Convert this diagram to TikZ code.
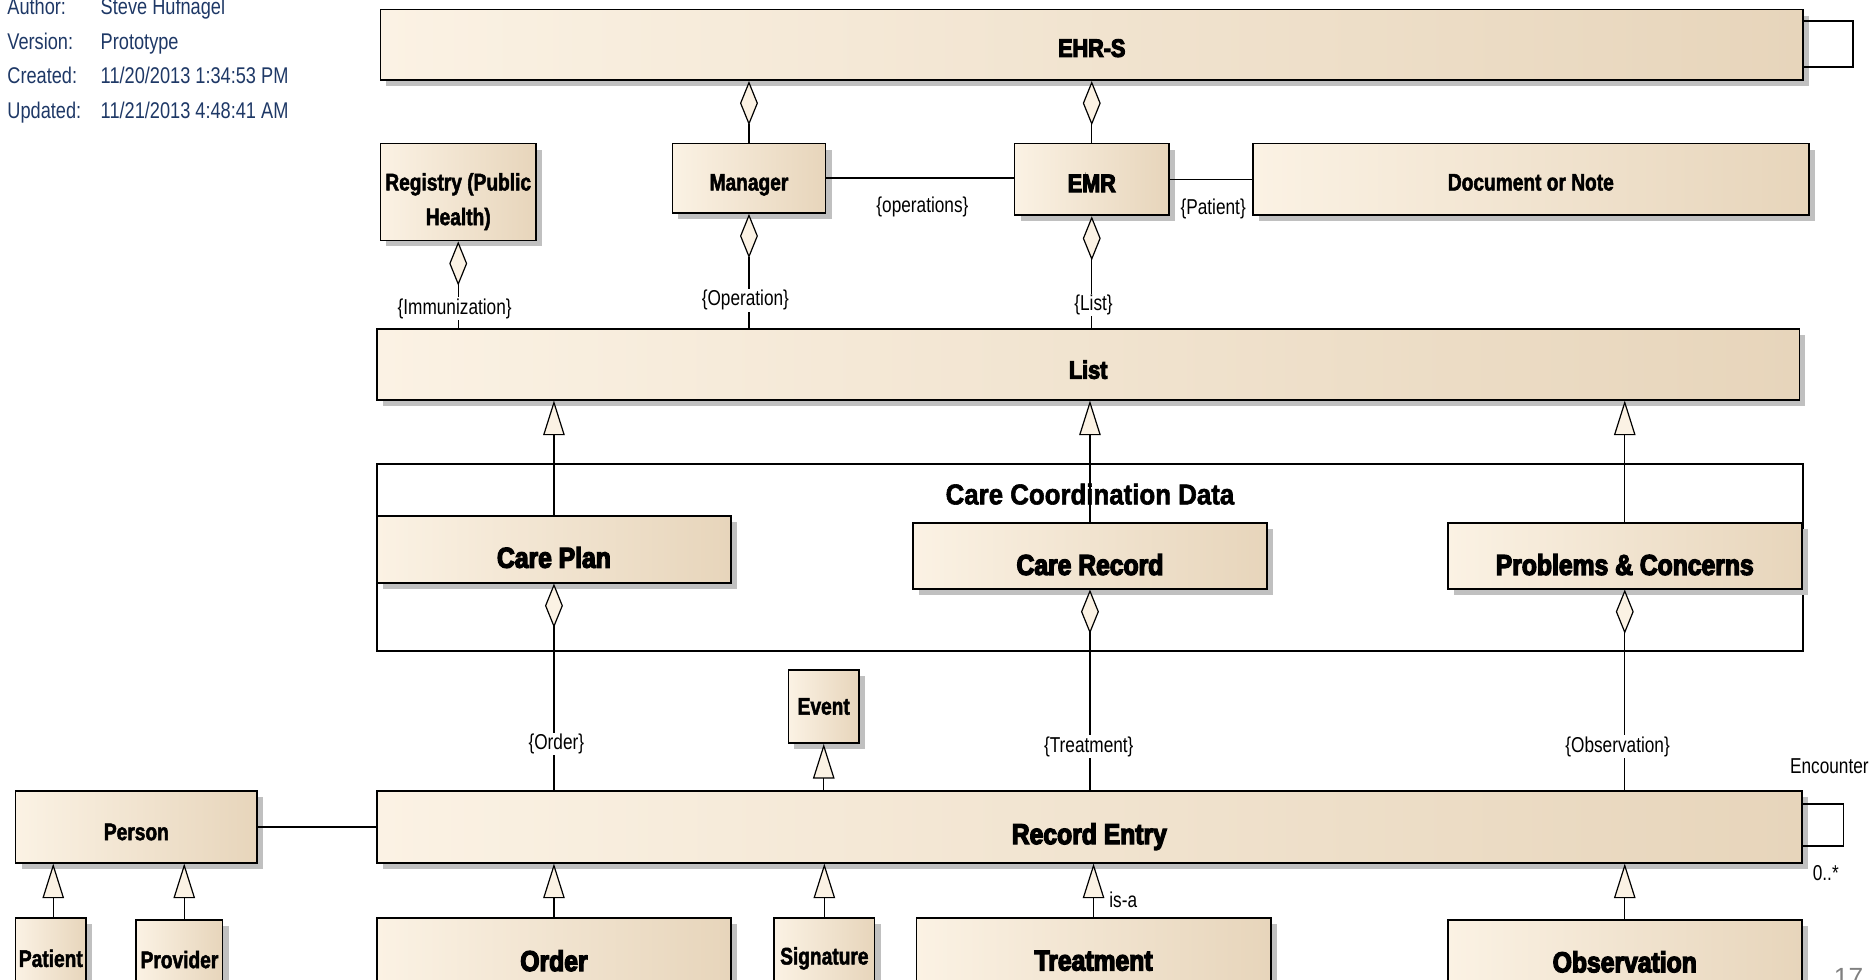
\documentclass[tikz,border=0pt]{standalone}
\usepackage{fontspec}
\setmainfont{Liberation Sans}
\newfontfamily\narrowfont[FakeStretch=0.8,BoldFeatures={FakeBold=2}]{Liberation Sans}
\newfontfamily\titlefont[FakeStretch=0.9,BoldFeatures={FakeBold=2}]{Liberation Sans}
\newfontfamily\heavyfont[FakeStretch=0.86,BoldFeatures={FakeBold=4.5}]{Liberation Sans}
\usetikzlibrary{arrows.meta,shadows}
\definecolor{cream}{RGB}{251,242,228}
\definecolor{boxtan}{RGB}{231,213,187}
\definecolor{navy}{RGB}{30,56,102}
\definecolor{shadowgray}{RGB}{192,192,192}

\tikzset{
  umlbox/.style={draw=black, line width=1.5pt, left color=cream, right color=boxtan,
    drop shadow={shadow xshift=5pt,shadow yshift=-5pt,fill=shadowgray,opacity=1},
    inner sep=0pt, align=center},
  plainbox/.style={umlbox, font=\narrowfont\bfseries\fontsize{20}{23}\selectfont},
  heavybox/.style={umlbox, font=\heavyfont\bfseries\fontsize{24}{27}\selectfont},
  heavysmall/.style={umlbox, font=\heavyfont\bfseries\fontsize{21}{24}\selectfont},
  sinktext/.style={text height=#1, text depth=0pt},
  boxsize/.style n args={2}{minimum width=#1, minimum height=#2},
  elabel/.style={font=\narrowfont\fontsize{18}{20}\selectfont, inner sep=1pt},
  onlinelabel/.style={elabel, fill=white},
  meta/.style={font=\narrowfont\fontsize{19}{22}\selectfont, text=navy, inner sep=0pt, anchor=base west},
  assoc/.style={draw=black, line width=1.5pt},
  agg/.style={draw=black, line width=1pt, -{Diamond[width=15pt,length=37pt,fill=cream]}},
  gen/.style={draw=black, line width=1pt, -{Triangle[width=18pt,length=29pt,fill=cream]}},
}

\begin{document}
\begin{tikzpicture}[x=1pt,y=-1pt]
\useasboundingbox (0,0) rectangle (1568,819);

% document properties
\node[meta] (authk) at (6,12) {Author:};
\node[meta] (authv) at (84,12) {Steve Hufnagel};
\node[meta] (verk) at (6,41) {Version:};
\node[meta] (verv) at (84,41) {Prototype};
\node[meta] (crek) at (6,70) {Created:};
\node[meta] (crev) at (84,70) {11/20/2013 1:34:53 PM};
\node[meta] (updk) at (6,99) {Updated:};
\node[meta] (updv) at (84,99) {11/21/2013 4:48:41 AM};

% package frame
\node[draw=black, line width=1.5pt, minimum width=1192pt, minimum height=156pt, inner sep=0pt] (ccd) at (911,466) {};

% classes
\node[heavysmall, sinktext=20pt, boxsize={1189pt}{59pt}] (ehrs) at (912.5,37.5) {EHR-S};
\node[plainbox, sinktext=20.4pt, boxsize={128pt}{58pt}] (mgr) at (626,149) {Manager};
\node[heavysmall, sinktext=21pt, boxsize={129pt}{60pt}] (emr) at (912.5,150) {EMR};
\node[plainbox, sinktext=18.4pt, boxsize={465pt}{60pt}] (doc) at (1279.5,150) {Document or Note};
\node[plainbox, boxsize={130pt}{81pt},
  label={[align=center, inner sep=0pt, yshift=-8pt, font=\narrowfont\bfseries\fontsize{20}{29}\selectfont]center:Registry (Public\\Health)}] (reg) at (383,160.5) {};
\node[heavysmall, sinktext=24pt, boxsize={1189pt}{59pt}] (list) at (909.5,304.5) {List};

\node[heavybox, sinktext=31pt, boxsize={296pt}{56pt}] (cp) at (463,459) {Care Plan};
\node[heavybox, sinktext=32pt, boxsize={296pt}{55pt}] (crec) at (911,464.5) {Care Record};
\node[heavybox, sinktext=32pt, boxsize={296pt}{55pt}] (prob) at (1358,464.5) {Problems \& Concerns};
\node[font=\titlefont\bfseries\fontsize{24}{26}\selectfont, inner sep=0pt] (ccdtitle) at (911,413) {Care Coordination Data};

\node[plainbox, boxsize={59pt}{61pt}] (event) at (688.5,590.5) {Event};
\node[heavybox, sinktext=29pt, boxsize={1191pt}{60pt}] (re) at (910.5,691) {Record Entry};
\node[plainbox, sinktext=22.4pt, boxsize={202pt}{60pt}] (person) at (114,691) {Person};

\node[plainbox, boxsize={59pt}{68pt}] (patient) at (42.5,801) {Patient};
\node[plainbox, boxsize={72pt}{66pt}] (provider) at (150,802) {Provider};
\node[heavybox, boxsize={296pt}{72pt}] (order) at (463,803) {Order};
\node[plainbox, boxsize={84pt}{68pt}] (sig) at (689,801) {Signature};
\node[heavybox, boxsize={296pt}{72pt}] (treat) at (914,803) {Treatment};
\node[heavybox, boxsize={296pt}{70pt}] (obs) at (1358,804) {Observation};

% self associations
\draw[assoc] ([yshift=-10pt]ehrs.north east) -- ++(41,0) -- ++(0,39) -- ++(-41,0);
\draw[assoc] ([yshift=-12pt]re.north east) -- ++(34,0) -- ++(0,35) -- ++(-34,0);
\node[elabel] (enc) at (1529,640) {Encounter};
\node[elabel] (mult) at (1526,730) {0..*};

% aggregations into EHR-S
\draw[agg] (mgr.north) -- (mgr.north |- ehrs.south);
\draw[agg] (emr.north) -- (emr.north |- ehrs.south);

% plain associations
\draw[assoc] (mgr.east) -- (mgr.east -| emr.west);
\draw[assoc] (emr.east) -- (emr.east -| doc.west);
\draw[assoc] (person.east) -- (person.east -| re.west);
\node[elabel] (opslbl) at (771,173) {\{operations\}};
\node[elabel] (patlbl) at (1014,175) {\{Patient\}};

% aggregations of List
\draw[agg] (reg.south |- list.north) -- (reg.south);
\draw[agg] (mgr.south |- list.north) -- (mgr.south);
\draw[agg] (emr.south |- list.north) -- (emr.south);
\node[onlinelabel] (immlbl) at (380,258) {\{Immunization\}};
\node[onlinelabel] (oplbl) at (623,251) {\{Operation\}};
\node[onlinelabel] (listlbl) at (914,255) {\{List\}};

% specializations of List
\draw[gen] (cp.north) -- (cp.north |- list.south);
\draw[gen] (crec.north) -- (crec.north |- list.south);
\draw[gen] (prob.north) -- (prob.north |- list.south);

% aggregations of Record Entry
\draw[agg] (cp.south |- re.north) -- (cp.south);
\draw[agg] (crec.south |- re.north) -- (crec.south);
\draw[agg] (prob.south |- re.north) -- (prob.south);
\node[onlinelabel] (ordlbl) at (465,622) {\{Order\}};
\node[onlinelabel] (trtlbl) at (910,624) {\{Treatment\}};
\node[onlinelabel] (obslbl) at (1352,624) {\{Observation\}};

% specializations of Record Entry and Person
\draw[gen] (event.south |- re.north) -- (event.south);
\draw[gen] (order.north) -- (order.north |- re.south);
\draw[gen] (sig.north) -- (sig.north |- re.south);
\draw[gen] (treat.north) -- (treat.north |- re.south);
\draw[gen] (obs.north) -- (obs.north |- re.south);
\draw[gen] ([xshift=2pt]patient.north) -- ([xshift=2pt]patient.north |- person.south);
\draw[gen] ([xshift=4pt]provider.north) -- ([xshift=4pt]provider.north |- person.south);
\node[elabel, anchor=west] (isa) at (926,752) {is-a};

% slide number
\node[anchor=north, text=gray, font=\fontsize{22}{24}\selectfont, inner sep=0pt] (pagenum) at (1545,809) {17};
\end{tikzpicture}
\end{document}
